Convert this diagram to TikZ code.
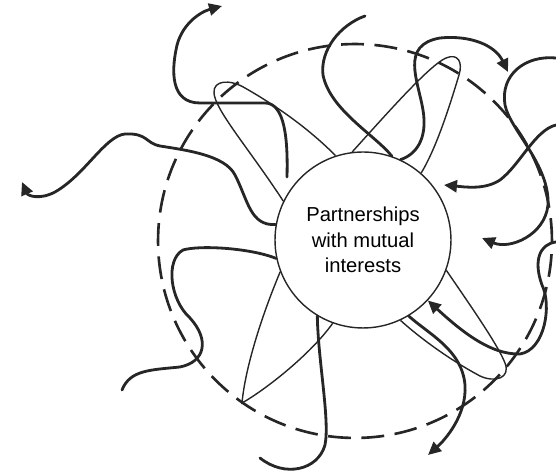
\documentclass[tikz,border=0pt]{standalone}
\usepackage{fontspec}
\setmainfont{Liberation Sans}
\usetikzlibrary{arrows.meta}

\begin{document}
\begin{tikzpicture}[
    x=0.02cm, y=-0.02cm,
    hub/.style={draw=black!85, circle, line width=0.8pt, minimum size=3.52cm, inner sep=0pt, align=center, font=\fontsize{11.5}{14.6}\selectfont},
    ring/.style={draw=black!85, line width=1.5pt, dash pattern=on 13pt off 6pt},
    petal/.style={draw=black!85, line width=0.8pt},
    flow/.style={draw=black!85, line width=1.6pt, line cap=round},
    tip/.style={-{Triangle[length=2.6mm, width=2.4mm]}}
]
    \useasboundingbox (0,0) rectangle (556,475);
    \draw[ring] (355,241) circle[radius=3.94cm];
    \node[hub] (hub) at (363,240) {Partnerships\\with mutual\\interests};

    \draw[petal] (hub.154) .. controls (250,150) and (215,110) .. (214,93)
        .. controls (213,80) and (230,79) .. (245,88) .. controls (280,108) and (310,130) .. (hub.108);
    \draw[petal] (hub.97) .. controls (390,110) and (430,65) .. (446,58)
        .. controls (458,53) and (463,62) .. (459,75) .. controls (447,115) and (435,150) .. (hub.49);
    \draw[petal] (hub.340) .. controls (470,305) and (498,345) .. (505,363)
        .. controls (511,378) and (495,383) .. (480,376) .. controls (450,360) and (420,338) .. (hub.295);
    \draw[petal] (hub.201) .. controls (260,320) and (245,370) .. (242,403)
        .. controls (265,390) and (310,355) .. (hub.250);

    \coordinate (a0) at (287,177);
    \coordinate (a1) at (222,6);
    \coordinate (b1) at (22,182);
    \coordinate (c1) at (122,390);
    \coordinate (d1) at (428,455);
    \coordinate (e1) at (260,458);
    \coordinate (f0) at (556,242);
    \coordinate (g0) at (556,125);
    \coordinate (g1) at (444,185);
    \coordinate (h0) at (556,58);
    \coordinate (h1) at (482,238);
    \coordinate (i1) at (508,72);
    \coordinate (j1) at (365,16);

    \draw[flow, tip] (a0) .. controls (288,140) and (285,103) .. (265,103) -- (200,103)
        .. controls (170,103) and (172,70) .. (176,50) .. controls (180,25) and (200,12) .. (a1);
    \draw[flow, tip] (hub.170) .. controls (250,226) and (248,200) .. (235,175)
        .. controls (225,155) and (185,150) .. (160,146) .. controls (145,143) and (148,133) .. (125,134)
        .. controls (105,136) and (85,175) .. (55,192) .. controls (40,200) and (28,196) .. (b1);
    \draw[flow] (hub.192) .. controls (250,248) and (200,245) .. (183,250)
        .. controls (165,260) and (170,300) .. (190,318) .. controls (210,340) and (205,362) .. (180,367)
        .. controls (150,370) and (130,370) .. (c1);
    \draw[flow] (hub.239) .. controls (318,360) and (330,420) .. (325,445)
        .. controls (318,470) and (285,478) .. (e1);
    \draw[flow, tip] (hub.301) .. controls (430,335) and (462,350) .. (465,385)
        .. controls (467,415) and (445,440) .. (d1);
    \draw[flow, tip] (f0) .. controls (540,244) and (533,260) .. (542,285)
        .. controls (552,305) and (545,350) .. (520,354) .. controls (490,355) and (460,330) .. (hub.317);
    \draw[flow, tip] (g0) .. controls (535,130) and (520,165) .. (500,180)
        .. controls (485,190) and (465,187) .. (g1);
    \draw[flow, tip] (h0) .. controls (525,55) and (500,75) .. (505,105)
        .. controls (510,130) and (550,165) .. (548,205) .. controls (545,235) and (510,250) .. (h1);
    \draw[flow, tip] (hub.65) .. controls (415,155) and (428,140) .. (423,110)
        .. controls (418,80) and (400,45) .. (440,38) .. controls (470,35) and (495,45) .. (i1);
    \draw[flow] (hub.71) .. controls (375,135) and (330,110) .. (323,75)
        .. controls (320,50) and (340,25) .. (j1);
\end{tikzpicture}
\end{document}
